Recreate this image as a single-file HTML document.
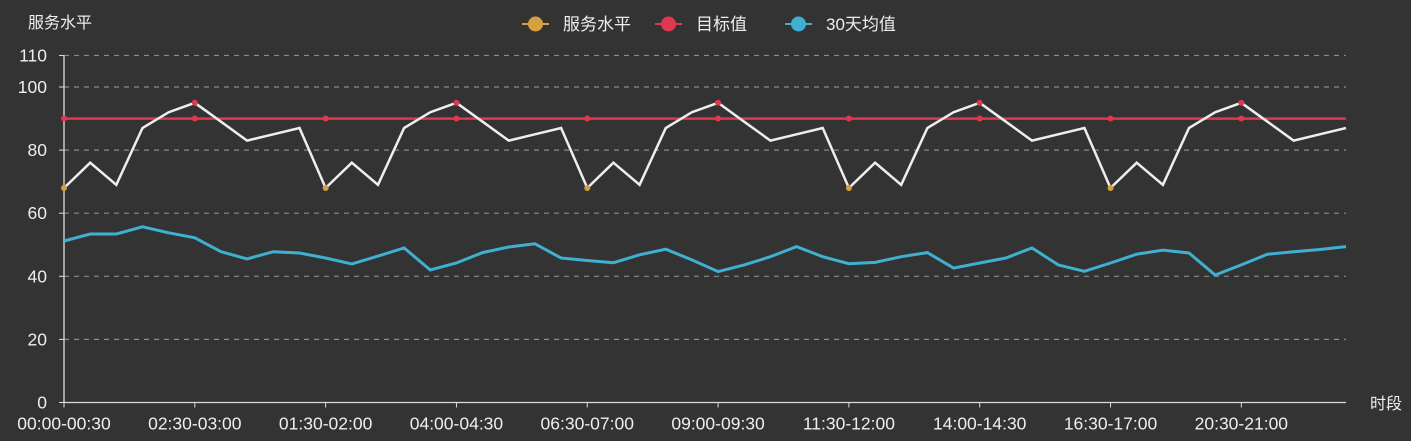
<!DOCTYPE html>
<html><head><meta charset="utf-8"><style>
html,body{margin:0;padding:0;background:#333333;}
svg{display:block;font-family:"Liberation Sans","Noto Sans CJK SC",sans-serif;}
</style></head><body>
<svg id="chart" width="1411" height="441" xmlns="http://www.w3.org/2000/svg">
<rect width="1411" height="441" fill="#333333"/>
<text x="28" y="28" fill="#eeeeee" font-size="16">服务水平</text>
<text x="1370" y="409" fill="#eeeeee" font-size="16">时段</text>
<g id="grid"></g><g id="axes"></g><g id="series"></g><g id="legend"></g>
</svg>
<script>
const xLabels = ["00:00-00:30","02:30-03:00","01:30-02:00","04:00-04:30","06:30-07:00","09:00-09:30","11:30-12:00","14:00-14:30","16:30-17:00","20:30-21:00"];
const yTicks = [0,20,40,60,80,100,110];
const serviceLevel = [68,76,69,87,92,95,89,83,85,87, 68,76,69,87,92,95,89,83,85,87, 68,76,69,87,92,95,89,83,85,87, 68,76,69,87,92,95,89,83,85,87, 68,76,69,87,92,95,89,83,85,87];
const target = [90,90,90,90,90,90,90,90,90,90, 90,90,90,90,90,90,90,90,90,90, 90,90,90,90,90,90,90,90,90,90, 90,90,90,90,90,90,90,90,90,90, 90,90,90,90,90,90,90,90,90,90];
const avg30 = [51.2,53.4,53.4,55.7,53.8,52.2,47.8,45.5,47.8,47.4,45.8,43.9,46.4,49,42,44.2,47.5,49.3,50.3,45.8,45,44.3,46.8,48.6,45.2,41.5,43.6,46.2,49.4,46.2,44,44.4,46.2,47.5,42.6,44.2,45.8,49,43.6,41.6,44.2,47,48.3,47.4,40.4,43.6,47,47.8,48.5,49.4];
const N = serviceLevel.length;
const X0=64, X1=1346, Y0=402.5, YK=3.155;
const xs = i => X0 + i*(X1-X0)/(N-1);
const ys = v => Y0 - v*YK;
const NS="http://www.w3.org/2000/svg";
function mk(tag, attrs, parent){const e=document.createElementNS(NS,tag);for(const k in attrs)e.setAttribute(k,attrs[k]);parent.appendChild(e);return e;}
const grid=document.getElementById('grid'), axes=document.getElementById('axes'), series=document.getElementById('series'), legend=document.getElementById('legend');
yTicks.forEach(t=>{
  const y=ys(t);
  if(t>0){const g=mk('line',{x1:X0,x2:X1,y1:y,y2:y,stroke:'#8a8a8a','stroke-width':1.2,'stroke-dasharray':'5,5'},grid);
  
  }
  const tk=mk('line',{x1:X0-5,x2:X0,y1:y,y2:y,stroke:'#dddddd'},axes);
  
  
  const tx=mk('text',{x:X0-17,y:y+6,fill:'#eeeeee','font-size':17.5,'text-anchor':'end'},axes);tx.textContent=t;
  
  
});
const ya=mk('line',{x1:X0,x2:X0,y1:ys(110),y2:Y0,stroke:'#dddddd','stroke-width':1.3},axes);


const xa=mk('line',{x1:X0,x2:X1,y1:Y0,y2:Y0,stroke:'#dddddd','stroke-width':1.3},axes);


xLabels.forEach((l,k)=>{
  const x=xs(k*5);
  const tk=mk('line',{x1:x,x2:x,y1:Y0,y2:Y0+5,stroke:'#dddddd'},axes);
  
  
  const tx=mk('text',{x:x,y:Y0+27,fill:'#eeeeee','font-size':17.5,'text-anchor':'middle'},axes);tx.textContent=l;
  
  
});
function pts(arr){return arr.map((v,i)=>xs(i).toFixed(1)+','+ys(v).toFixed(1)).join(' ');}
const tl=mk('polyline',{points:pts(target),fill:'none',stroke:'#e0384e','stroke-width':2.5},series);


target.forEach((v,i)=>{if(i%5===0){const c=mk('circle',{cx:xs(i),cy:ys(v),r:3,fill:'#e0384e'},series);
  
  }});
const sl=mk('polyline',{points:pts(serviceLevel),fill:'none',stroke:'#eeeeee','stroke-width':2.5},series);


serviceLevel.forEach((v,i)=>{if(i%5===0){const c=mk('circle',{cx:xs(i),cy:ys(v),r:3,fill:(i%10===0)?'#d4a040':'#e0384e'},series);
  
  }});
const al=mk('polyline',{points:pts(avg30),fill:'none',stroke:'#3fb0d0','stroke-width':3},series);


const leg=[["服务水平","#d4a040",522],["目标值","#e0384e",655],["30天均值","#3fb0d0",785]];
leg.forEach(([n,c,x])=>{
  const g=mk('g',{},legend);
  
  
  mk('line',{x1:x,x2:x+27,y1:24,y2:24,stroke:c,'stroke-width':2},g);
  mk('circle',{cx:x+13.5,cy:24,r:7.5,fill:c},g);
  const t=mk('text',{x:x+41,y:30,fill:'#eeeeee','font-size':17},g);t.textContent=n;
});
</script>
</body></html>
